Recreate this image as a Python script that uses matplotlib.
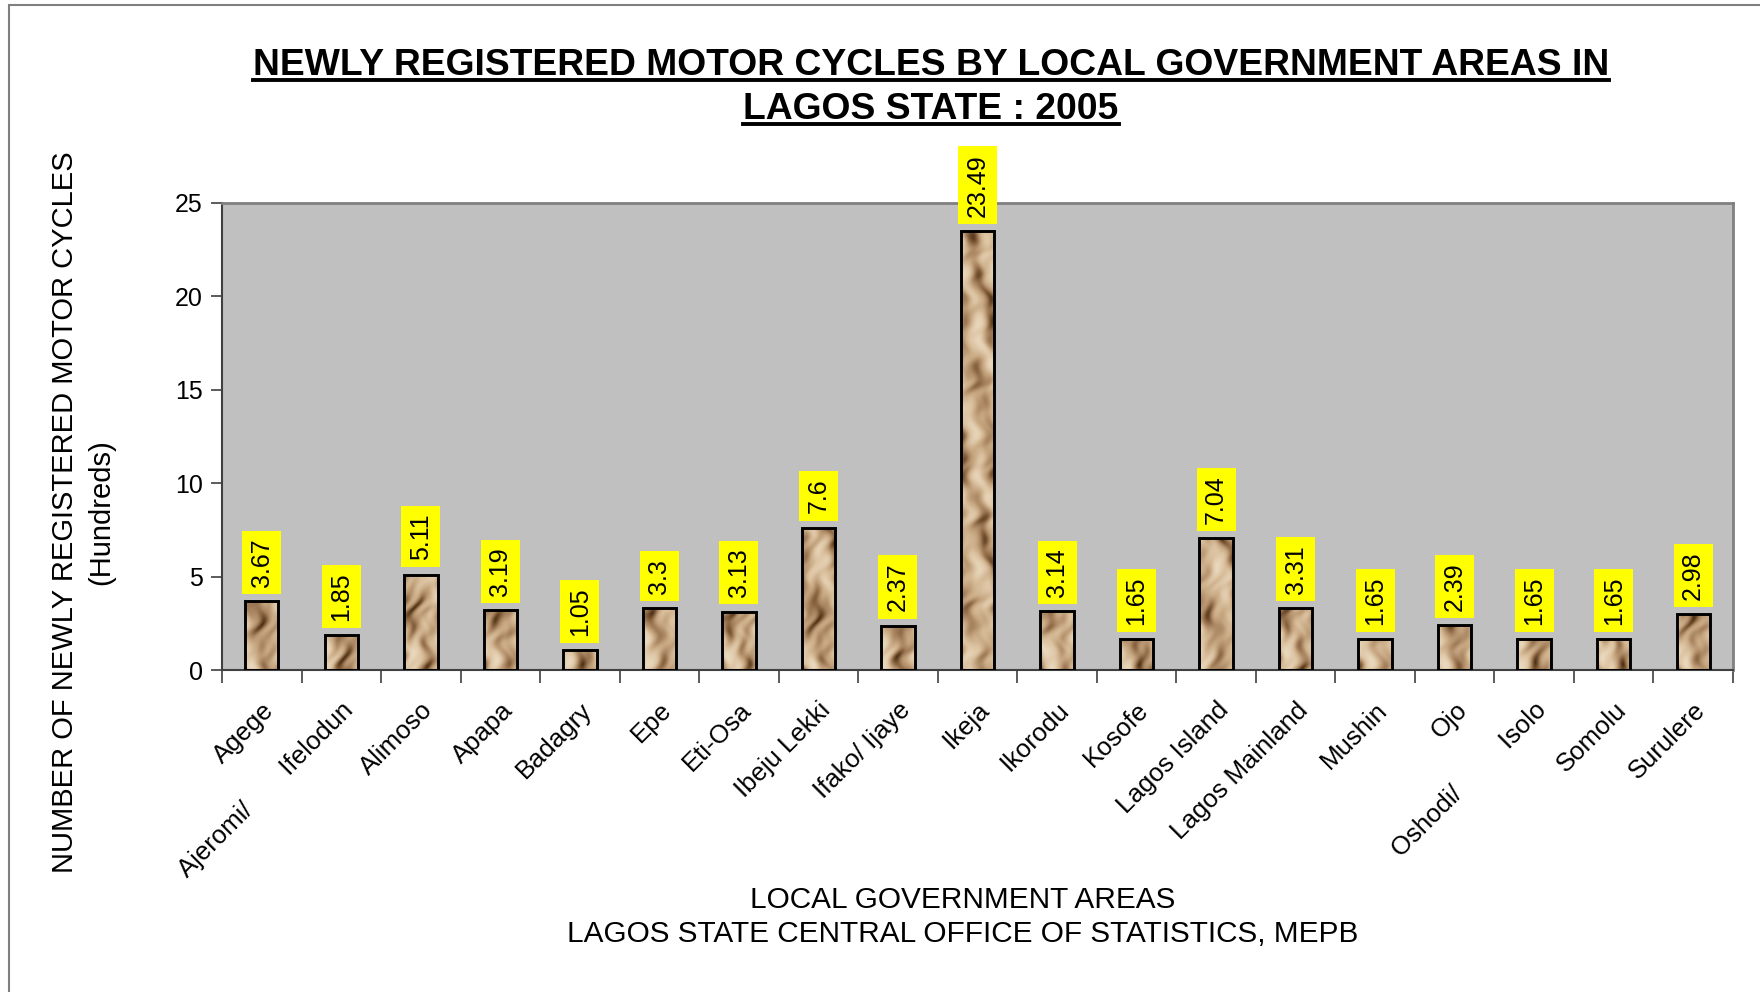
import numpy as np
import matplotlib
matplotlib.use('Agg')
import matplotlib.pyplot as plt
from matplotlib.colors import LinearSegmentedColormap
from matplotlib.lines import Line2D
from matplotlib.patches import Rectangle

categories = ["Agege", "Ajeromi/ Ifelodun", "Alimoso", "Apapa", "Badagry", "Epe",
              "Eti-Osa", "Ibeju Lekki", "Ifako/ Ijaye", "Ikeja", "Ikorodu", "Kosofe",
              "Lagos Island", "Lagos Mainland", "Mushin", "Ojo", "Oshodi/ Isolo",
              "Somolu", "Surulere"]
tick_labels = ["Agege", "Ajeromi/       Ifelodun", "Alimoso", "Apapa", "Badagry", "Epe",
               "Eti-Osa", "Ibeju Lekki", "Ifako/ Ijaye", "Ikeja", "Ikorodu", "Kosofe",
               "Lagos Island", "Lagos Mainland", "Mushin", "Ojo", "Oshodi/         Isolo",
               "Somolu", "Surulere"]
values = [3.67, 1.85, 5.11, 3.19, 1.05, 3.3, 3.13, 7.6, 2.37, 23.49, 3.14, 1.65,
          7.04, 3.31, 1.65, 2.39, 1.65, 1.65, 2.98]
yticks = [0, 5, 10, 15, 20, 25]
title_lines = ["NEWLY REGISTERED MOTOR CYCLES BY LOCAL GOVERNMENT AREAS IN",
               "LAGOS STATE : 2005"]
ylabel_lines = ["NUMBER OF NEWLY REGISTERED MOTOR CYCLES", "(Hundreds)"]
xlabel_lines = ["LOCAL GOVERNMENT AREAS", "LAGOS STATE CENTRAL OFFICE OF STATISTICS, MEPB"]

plt.rcParams['font.family'] = ['Liberation Sans', 'DejaVu Sans']

W, H = 1760, 992
fig = plt.figure(figsize=(W / 100, H / 100), dpi=100)
ax = fig.add_axes([222 / W, 1 - 670 / H, (1733 - 222) / W, (670 - 203) / H])
ax.set_facecolor('#c0c0c0')

x = np.arange(len(categories))
bw = 0.42
base = ax.bar(x, values, width=bw, color='#b8966c', edgecolor='none', zorder=2)

# stone-like texture clipped to each bar
cmap = LinearSegmentedColormap.from_list(
    'stone', ['#4e331a', '#7e5a36', '#a88460', '#c7a882', '#dcc3a2', '#e9d8bd'])
for i, b in enumerate(base):
    h = b.get_height()
    ny = max(int(h * 19), 4)
    nx = 34
    yy, xx = np.mgrid[0:ny, 0:nx].astype(float)
    ph = i * 1.7
    u = xx + 4.0 * np.sin(0.09 * yy + ph) + 2.0 * np.sin(0.23 * yy + 0.4 * ph)
    v = yy + 5.0 * np.sin(0.11 * xx + 0.7 * ph) + 3.0 * np.sin(0.053 * yy + ph)
    t = (np.sin(0.17 * u + 0.05 * v)
         + 0.7 * np.sin(0.08 * v + 1.3 * np.sin(0.25 * u))
         + 0.4 * np.sin(0.31 * u - 0.23 * v + ph)
         + 0.3 * np.sin(0.047 * v + 0.13 * u + ph))
    t = (t - t.min()) / (t.max() - t.min())
    t = t ** 0.7
    im = ax.imshow(t, cmap=cmap, vmin=0, vmax=1, origin='lower', aspect='auto',
                   extent=(b.get_x(), b.get_x() + b.get_width(), 0, h),
                   interpolation='bilinear', zorder=2.5)
    im.set_clip_path(b)

ax.bar(x, values, width=bw, facecolor='none', edgecolor='black', linewidth=2.1, zorder=3)

for xi, v in zip(x, values):
    ax.annotate(f'{v:g}', (xi, v), xytext=(0, 10.5), textcoords='offset points',
                rotation=90, ha='center', va='bottom', fontsize=18,
                bbox=dict(boxstyle='square,pad=0.3', fc='#ffff00', ec='none'),
                annotation_clip=False, zorder=5)

ax.set_xlim(-0.5, len(categories) - 0.5)
ax.set_ylim(0, 25)
ax.set_yticks(yticks)
ax.tick_params(axis='y', length=8, width=1.2, color='#404040', labelsize=18, pad=6)
ax.set_xticks(x)
ax.set_xticks(np.arange(len(categories) + 1) - 0.5, minor=True)
ax.tick_params(axis='x', which='major', length=0, pad=20)
ax.tick_params(axis='x', which='minor', length=9, width=1.2, color='#404040')
ax.set_xticklabels(tick_labels, rotation=45, ha='right', va='top',
                   rotation_mode='anchor', fontsize=18.5)

for s in ['top', 'right']:
    ax.spines[s].set_color('#808080')
    ax.spines[s].set_linewidth(2)
for s in ['left', 'bottom']:
    ax.spines[s].set_color('#404040')
    ax.spines[s].set_linewidth(1.5)

# figure border (left and top visible)
fig.add_artist(Rectangle((9 / W, -0.1), 1.2, 1 - 5 / H + 0.1, transform=fig.transFigure,
                         fill=False, ec='#808080', lw=1.5))

# title with underline
title_texts = []
for line, yb in zip(title_lines, [75, 119]):
    t = fig.text(931 / W, 1 - yb / H, line, ha='center', va='baseline',
                 fontsize=26.8, fontweight='bold')
    title_texts.append((t, yb))

fig.text(65 / W, 1 - 512 / H, ylabel_lines[0], rotation=90, ha='center', va='center', fontsize=21)
fig.text(101 / W, 1 - 512 / H, ylabel_lines[1], rotation=90, ha='center', va='center', fontsize=21)
fig.text(963 / W, 1 - 900 / H, xlabel_lines[0], ha='center', va='center', fontsize=21.4)
fig.text(963 / W, 1 - 934 / H, xlabel_lines[1], ha='center', va='center', fontsize=21.4)

fig.canvas.draw()
r = fig.canvas.get_renderer()
for t, yb in title_texts:
    bb = t.get_window_extent(r)
    yu = 1 - (yb + 5) / H
    fig.add_artist(Line2D([bb.x0 / W, bb.x1 / W], [yu, yu], transform=fig.transFigure,
                          color='black', lw=2.8))

fig.savefig('out.png', dpi=100, facecolor='white')
